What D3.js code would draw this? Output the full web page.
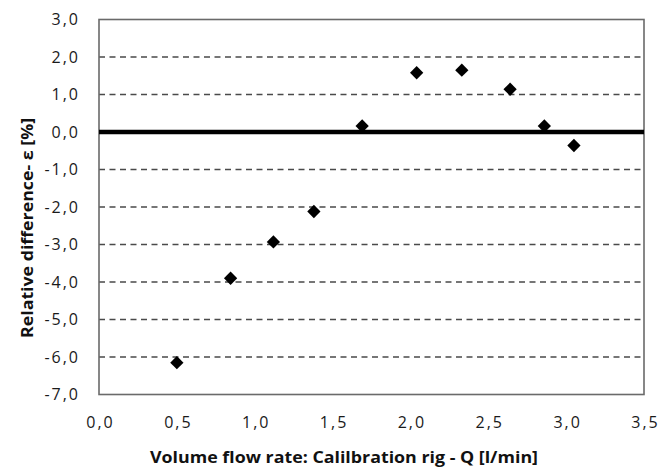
<!DOCTYPE html>
<html>
<head>
<meta charset="utf-8">
<script src="https://cdn.jsdelivr.net/npm/d3@7"></script>
<style>
body { margin: 0; background: #fff; }
svg { display: block; }
</style>
</head>
<body>
<svg id="chart"></svg>
<script>
// data
var flowRate = [0.50, 0.845, 1.12, 1.38, 1.69, 2.04, 2.33, 2.64, 2.86, 3.05]
var relDiff = [-6.15, -3.90, -2.93, -2.12, 0.16, 1.58, 1.65, 1.14, 0.16, -0.36]
var xTicks = [0, 0.5, 1, 1.5, 2, 2.5, 3, 3.5]
var yTicks = [3, 2, 1, 0, -1, -2, -3, -4, -5, -6, -7]
var xTitle = "Volume flow rate: Calilbration rig - Q [l/min]"
var yTitle = "Relative difference- \u03b5 [%]"

var width = 671
var height = 469
var plotLeft = 99, plotRight = 644, plotTop = 19.5, plotBottom = 394.5

var svg = d3.select("#chart")
	.attr("width", width)
	.attr("height", height)

var xScale = d3.scaleLinear().domain([0, 3.5]).range([plotLeft, plotRight])
var yScale = d3.scaleLinear().domain([-7, 3]).range([plotBottom, plotTop])
var fmt = d => d3.format(".1f")(d).replace(".", ",").replace("\u2212", "-")

// dashed gridlines
svg.append("g").selectAll("line")
	.data(yTicks.filter(d => d != 0 && d != 3 && d != -7))
	.enter().append("line")
	.attr("x1", plotLeft)
	.attr("x2", plotRight)
	.attr("y1", d => yScale(d))
	.attr("y2", d => yScale(d))
	.style("stroke", "#4a4a4a")
	.style("stroke-width", 1.3)
	.style("stroke-dasharray", "6,4.5")

// frame
svg.append("rect")
	.attr("x", plotLeft)
	.attr("y", plotTop)
	.attr("width", plotRight - plotLeft)
	.attr("height", plotBottom - plotTop)
	.attr("fill", "none")
	.style("stroke", "#6a6a6a")
	.style("stroke-width", 1.6)

// zero line
svg.append("line")
	.attr("x1", plotLeft)
	.attr("x2", plotRight)
	.attr("y1", yScale(0))
	.attr("y2", yScale(0))
	.style("stroke", "#000")
	.style("stroke-width", 4.5)

// tick labels
svg.append("g").selectAll("text")
	.data(yTicks)
	.enter().append("text")
	.attr("x", 80)
	.attr("y", d => yScale(d))
	.attr("dy", "0.35em")
	.attr("text-anchor", "end")
	.style("font-family", "Open Sans")
	.style("font-size", "16px")
	.style("letter-spacing", "2px")
	.attr("fill", "#1a1a1a")
	.text(fmt)

svg.append("g").selectAll("text")
	.data(xTicks)
	.enter().append("text")
	.attr("x", d => xScale(d) + 1.5)
	.attr("y", 422)
	.attr("dy", "0.35em")
	.attr("text-anchor", "middle")
	.style("font-family", "Open Sans")
	.style("font-size", "16px")
	.style("letter-spacing", "2px")
	.attr("fill", "#1a1a1a")
	.text(fmt)

// axis titles
svg.append("text")
	.attr("x", 344)
	.attr("y", 463)
	.attr("text-anchor", "middle")
	.attr("textLength", 388)
	.attr("lengthAdjust", "spacingAndGlyphs")
	.style("font-family", "Open Sans")
	.style("font-weight", "bold")
	.style("font-size", "16.5px")
	.attr("fill", "#111")
	.text(xTitle)

svg.append("text")
	.attr("transform", "translate(33,228) rotate(-90)")
	.attr("text-anchor", "middle")
	.attr("textLength", 220)
	.attr("lengthAdjust", "spacingAndGlyphs")
	.style("font-family", "Open Sans")
	.style("font-weight", "bold")
	.style("font-size", "16.5px")
	.attr("fill", "#111")
	.text(yTitle)

// points
var diamond = d3.symbol().type(d3.symbolSquare).size(88)
svg.append("g").selectAll("path")
	.data(flowRate)
	.enter().append("path")
	.attr("d", diamond)
	.attr("transform", (d, i) => "translate(" + xScale(d) + "," + yScale(relDiff[i]) + ") rotate(45)")
	.attr("fill", "#000")
</script>
</body>
</html>
